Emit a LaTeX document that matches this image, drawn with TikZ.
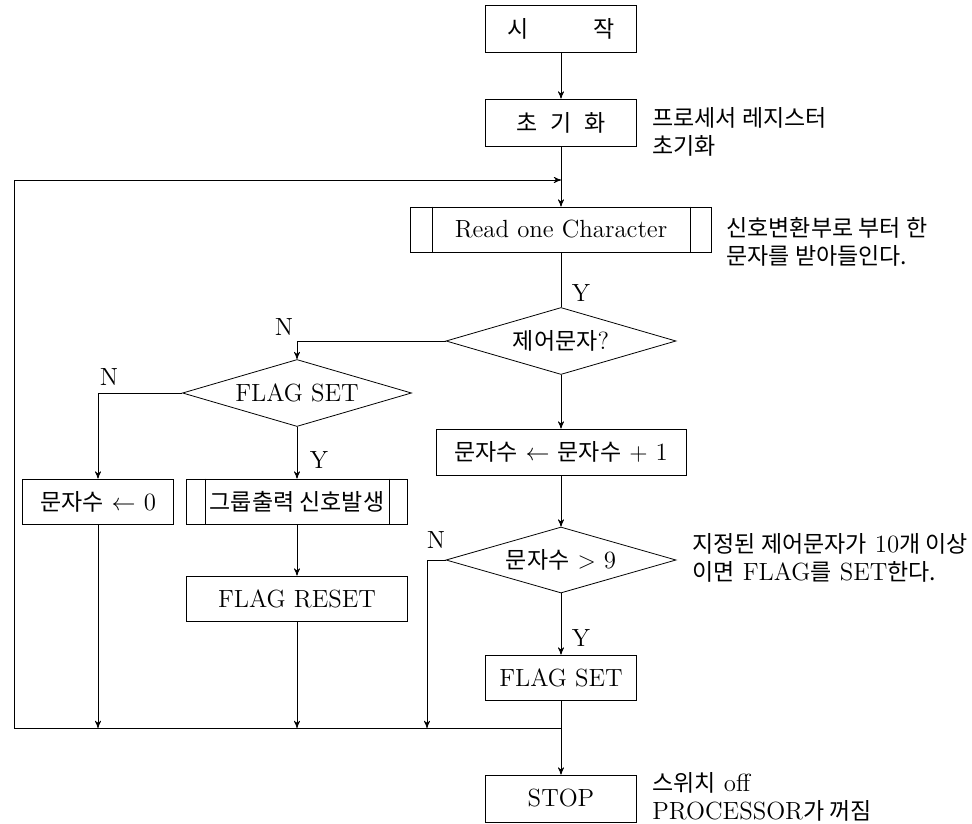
\documentclass[tikz,border=0pt]{standalone}
\usepackage{fontspec}
\usepackage{tikz}
\usetikzlibrary{arrows,shapes.geometric}
\setmainfont{Latin Modern Roman}[Scale=1.08]
\newfontfamily\kr{Noto Sans CJK KR}

\begin{document}
\begin{tikzpicture}[x=0.5pt, y=-0.5pt, >=stealth', thin,
            font=\fontsize{11.5}{14}\selectfont,
            box/.style={draw, rectangle, inner sep=0pt, minimum width=75.5pt, minimum height=22.5pt},
            decide/.style={draw, diamond, aspect=3.4, inner sep=0pt, minimum width=115pt, minimum height=33.5pt},
            note/.style={anchor=west, align=left, inner sep=0pt}]
            % Frame to ensure alignment:
            \useasboundingbox                                          (  0,   0) rectangle (972, 823);
            % main column
            \node[box, minimum height=23.5pt]                  (start) at (561,  28.5) {{\kr 시}\hspace{2.6em}{\kr 작}};
            \node[box, minimum height=23.5pt]                  (init)  at (561, 122.5) {{\kr 초\hspace{0.55em}기\hspace{0.55em}화}};
            \node[box, minimum width=150.5pt]                  (read)  at (561, 229.5) {Read one Character};
            \node[decide]                                      (ctrl)  at (561, 341)   {{\kr 제어문자}?};
            \node[box, minimum width=125pt, minimum height=23pt] (inc) at (561, 452)   {{\kr 문자수} $\leftarrow$ {\kr 문자수} $+$ 1};
            \node[decide, minimum height=33pt]                 (gtnine) at (561, 560)  {{\kr 문자수} $>$ 9};
            \node[box]                                         (fset)  at (561, 677.5) {FLAG SET};
            \node[box, minimum height=23.5pt]                  (stop)  at (561, 798.5) {STOP};
            % left columns
            \node[decide, minimum width=114.5pt]               (flagq) at (297, 393)   {FLAG SET};
            \node[box]                                         (cntzero) at (98, 501.5) {{\kr 문자수} $\leftarrow$ 0};
            \node[box, minimum width=110.5pt]                  (grp)   at (297, 501.5) {{\kr 그룹출력 신호발생}};
            \node[box, minimum width=110.5pt]                  (reset) at (297, 598.5) {FLAG RESET};
            % double sides of the sub-process boxes
            \draw ([xshift=11pt]read.north west)  -- ([xshift=11pt]read.south west);
            \draw ([xshift=-11pt]read.north east) -- ([xshift=-11pt]read.south east);
            \draw ([xshift=9.5pt]grp.north west)  -- ([xshift=9.5pt]grp.south west);
            \draw ([xshift=-9.5pt]grp.north east) -- ([xshift=-9.5pt]grp.south east);
            % remarks
            \node[note] (initnote)  at (652, 132)   {{\kr 프로세서 레지스터}\\{\kr 초기화}};
            \node[note] (readnote)  at (726, 242)   {{\kr 신호변환부로 부터 한}\\{\kr 문자를 받아들인다.}};
            \node[note] (ninenote)  at (692, 558)   {{\kr 지정된 제어문자가} 10{\kr 개 이상}\\{\kr 이면} FLAG{\kr 를} SET{\kr 한다.}};
            \node[note] (stopnote)  at (652, 797)   {{\kr 스위치} off\\PROCESSOR{\kr 가 꺼짐}};
            % branch labels
            \node (yone)   at (581, 293) {Y};
            \node (none)   at (284, 327) {N};
            \node (ntwo)   at (109, 377) {N};
            \node (ytwo)   at (319, 460) {Y};
            \node (nthree) at (436, 540) {N};
            \node (ythree) at (581, 638) {Y};
            % join points
            \coordinate (join)  at (561, 180);
            \coordinate (merge) at (561, 728);
            \coordinate (back)  at ( 14, 728);
            \coordinate (nbr)   at (427, 728);
            % connectors
            \draw[->] (start) -- (init);
            \draw[->] (init)  -- (read);
            \draw     (read)  -- (ctrl);
            \draw[->] (ctrl)  -- (inc);
            \draw[->] (inc)   -- (gtnine);
            \draw[->] (gtnine) -- (fset);
            \draw[->] (fset)  -- (stop);
            \draw[->] (ctrl.west) -| (flagq.north);
            \draw[->] (flagq.west) -| (cntzero.north);
            \draw[->] (flagq) -- (grp);
            \draw[->] (grp)   -- (reset);
            \draw[->] (cntzero) -- (cntzero |- merge);
            \draw[->] (reset) -- (reset |- merge);
            \draw[->] (gtnine.west) -| (nbr);
            \draw     (back)  -- (merge);
            \draw[->] (back)  |- (join);
        \end{tikzpicture}
\end{document}
